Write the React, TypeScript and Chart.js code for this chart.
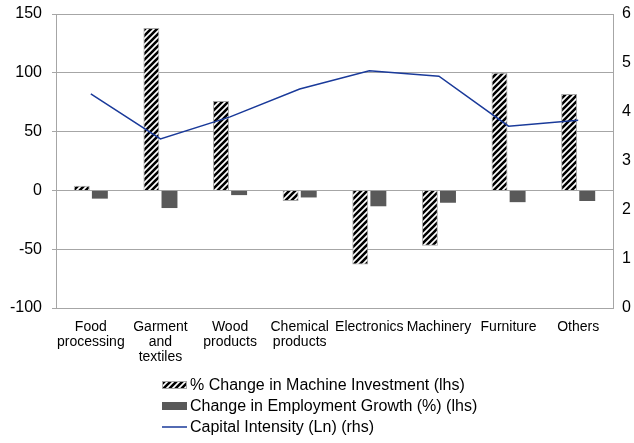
import React, { useEffect, useRef } from "react";
import { Chart, registerables } from "chart.js";
Chart.register(...registerables);

const categories: (string | string[])[] = [
  ["Food", "processing"],
  ["Garment", "and", "textiles"],
  ["Wood", "products"],
  ["Chemical", "products"],
  "Electronics",
  "Machinery",
  "Furniture",
  "Others",
];
const machineInvestment = [4, 138, 76, -9, -63, -47, 100, 82];
const employmentGrowth = [-7, -15, -4, -6, -13.5, -10.5, -10, -9];
const capitalIntensity = [4.37, 3.45, 3.9, 4.47, 4.84, 4.73, 3.71, 3.83];
const legendLabels = [
  "% Change in Machine Investment (lhs)",
  "Change in Employment Growth (%) (lhs)",
  "Capital Intensity (Ln) (rhs)",
];

const FONT = "'Liberation Sans', Arial, sans-serif";
const GRID = "#a6a6a6";
const EMP = "#595959";
const LINE = "#1a3a9a";

function makeHatch(): CanvasPattern | string {
  const s = 6;
  const c = document.createElement("canvas");
  c.width = s;
  c.height = s;
  const g = c.getContext("2d");
  if (!g) return "#000";
  g.fillStyle = "#fff";
  g.fillRect(0, 0, s, s);
  g.strokeStyle = "#000";
  g.lineWidth = 2.6;
  g.beginPath();
  g.moveTo(-1, s + 1);
  g.lineTo(s + 1, -1);
  g.moveTo(-1, 1);
  g.lineTo(1, -1);
  g.moveTo(s - 1, s + 1);
  g.lineTo(s + 1, s - 1);
  g.stroke();
  const p = g.createPattern(c, "repeat");
  return p || "#000";
}

export default function App() {
  const ref = useRef<HTMLCanvasElement>(null);
  useEffect(() => {
    document.body.style.margin = "0";
    const canvas = ref.current;
    if (!canvas) return;
    const hatch = makeHatch();

    const legendPlugin = {
      id: "customLegend",
      afterDraw(chart: any) {
        const ctx = chart.ctx;
        ctx.save();
        ctx.font = `16px ${FONT}`;
        ctx.textBaseline = "middle";
        const rows = [385, 406, 427];
        const sx = 162;
        const sw = 25;
        const tx = 190;
        ctx.fillStyle = hatch as any;
        ctx.fillRect(sx, rows[0] - 4, sw, 8);
        ctx.strokeStyle = GRID;
        ctx.lineWidth = 1;
        ctx.strokeRect(sx + 0.5, rows[0] - 3.5, sw - 1, 7);
        ctx.fillStyle = EMP;
        ctx.fillRect(sx, rows[1] - 4, sw, 8);
        ctx.strokeStyle = LINE;
        ctx.lineWidth = 1.5;
        ctx.beginPath();
        ctx.moveTo(sx, rows[2]);
        ctx.lineTo(sx + sw, rows[2]);
        ctx.stroke();
        ctx.fillStyle = "#000";
        legendLabels.forEach((t, i) => {
          ctx.fillText(t, tx, rows[i] + 1);
        });
        ctx.restore();
      },
    };

    const fixY = (w: number) => (s: any) => {
      s.width = w;
      s.paddingTop = 0;
      s.paddingBottom = 0;
    };

    const chart = new Chart(canvas, {
      type: "bar",
      data: {
        labels: categories as any,
        datasets: [
          {
            type: "line",
            label: legendLabels[2],
            data: capitalIntensity,
            yAxisID: "y2",
            borderColor: LINE,
            backgroundColor: LINE,
            borderWidth: 1.5,
            pointRadius: 0,
            tension: 0,
            order: 0,
          } as any,
          {
            type: "bar",
            label: legendLabels[0],
            data: machineInvestment,
            yAxisID: "y",
            backgroundColor: hatch as any,
            borderColor: GRID,
            borderWidth: 1,
            categoryPercentage: 0.52,
            barPercentage: 0.88,
            order: 1,
          },
          {
            type: "bar",
            label: legendLabels[1],
            data: employmentGrowth,
            yAxisID: "y",
            backgroundColor: EMP,
            borderWidth: 0,
            categoryPercentage: 0.52,
            barPercentage: 0.88,
            order: 1,
          },
        ],
      },
      options: {
        responsive: false,
        animation: false,
        layout: { padding: { top: 14, left: 0, right: 0, bottom: 0 } },
        plugins: {
          legend: { display: false },
          tooltip: { enabled: false },
        },
        scales: {
          x: {
            type: "category",
            offset: true,
            grid: { display: false },
            border: { display: true, color: GRID, width: 1 },
            ticks: {
              color: "#000",
              font: { family: FONT, size: 14, lineHeight: 1.1 },
              padding: 3,
              maxRotation: 0,
              minRotation: 0,
              autoSkip: false,
            },
            afterFit: (s: any) => {
              s.height = 135;
              s.paddingLeft = 0;
              s.paddingRight = 0;
            },
          },
          y: {
            position: "left",
            min: -100,
            max: 150,
            ticks: {
              stepSize: 50,
              color: "#000",
              font: { family: FONT, size: 16 },
              padding: 10,
            },
            grid: { color: GRID, lineWidth: 1, tickLength: 4 },
            border: { display: true, color: GRID, width: 1 },
            afterFit: fixY(56),
          },
          y2: {
            position: "right",
            min: 0,
            max: 6,
            ticks: {
              stepSize: 1,
              color: "#000",
              font: { family: FONT, size: 16 },
              padding: 9,
            },
            grid: { drawOnChartArea: false, drawTicks: false },
            border: { display: true, color: GRID, width: 1 },
            afterFit: fixY(21),
          },
        },
      },
      plugins: [legendPlugin],
    });
    return () => chart.destroy();
  }, []);
  return (
    <div style={{ width: 634, height: 443 }}>
      <canvas ref={ref} width={634} height={443} style={{ display: "block" }} />
    </div>
  );
}
